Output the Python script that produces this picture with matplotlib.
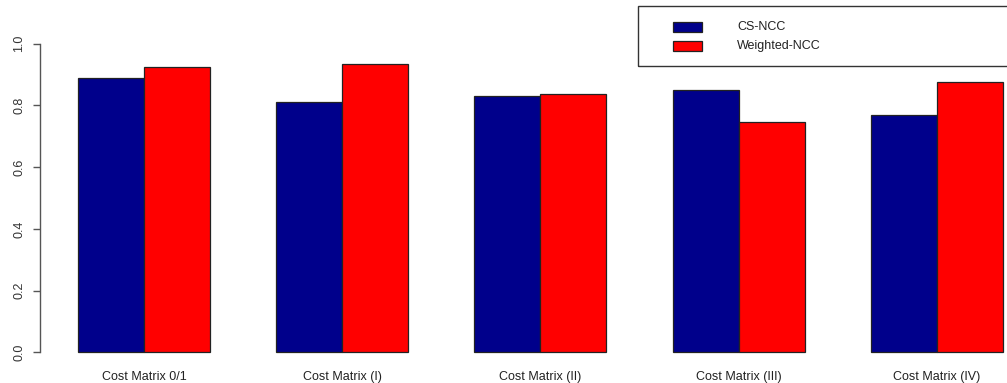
import numpy as np
import matplotlib
matplotlib.use("Agg")
import matplotlib.pyplot as plt
from matplotlib.patches import Rectangle

plt.rcParams['font.family'] = ['Liberation Sans', 'DejaVu Sans']

categories = ["Cost Matrix 0/1", "Cost Matrix (I)", "Cost Matrix (II)",
              "Cost Matrix (III)", "Cost Matrix (IV)"]
series_names = ["CS-NCC", "Weighted-NCC"]
cs_ncc = [0.888, 0.810, 0.831, 0.849, 0.768]
weighted_ncc = [0.923, 0.934, 0.838, 0.747, 0.875]
colors = ["#00008B", "#FF0000"]
yticks = [0.0, 0.2, 0.4, 0.6, 0.8, 1.0]

W, H = 1007, 383
fig = plt.figure(figsize=(W / 100, H / 100), dpi=100)

# R-style beside barplot: each group = 2 bars + 1 gap, bar width 1
unit = 66.08
x0_px = 77.8          # pixel of first bar's left edge
left_px, right_px = 40, 1040
u_left = 1 - (x0_px - left_px) / unit
u_right = 1 + (right_px - x0_px) / unit
ax = fig.add_axes([left_px / W, (H - 364.6) / H, (right_px - left_px) / W, (364.6 - 31.4) / H])
ax.set_xlim(u_left, u_right)
ax.set_ylim(-0.04, 1.04)

starts = 1 + 3 * np.arange(len(categories))
for i, (vals, col) in enumerate(zip([cs_ncc, weighted_ncc], colors)):
    ax.bar(starts + i, vals, width=1, align='edge', color=col,
           edgecolor="#222222", linewidth=0.9)

for s in ["top", "right", "bottom"]:
    ax.spines[s].set_visible(False)
ax.spines["left"].set_bounds(0, 1)
ax.spines["left"].set_color("#555555")
ax.spines["left"].set_linewidth(1.0)

ax.set_yticks(yticks)
ax.set_yticklabels([f"{t:.1f}" for t in yticks], rotation=90, va="center",
                   fontsize=9, color="#333333")
ax.tick_params(axis="y", length=5.2, width=1.0, color="#555555", pad=5.5)

ax.set_xticks(starts + 1)
ax.set_xticklabels(categories, fontsize=9, color="#222222")
ax.tick_params(axis="x", length=0, pad=4.5)

# legend box in the top right corner
def fx(px):
    return px / W

def fy(py):
    return (H - py) / H

fig.patches.append(Rectangle((fx(638.3), fy(65.7)), fx(1100 - 638.3), fy(6) - fy(65.7),
                             transform=fig.transFigure, fill=False,
                             edgecolor="#333333", linewidth=1.0))
for name, col, (top, bot) in zip(series_names, colors, [(21.7, 31.7), (40.7, 50.7)]):
    fig.patches.append(Rectangle((fx(673), fy(bot)), fx(701.7) - fx(673), fy(top) - fy(bot),
                                 transform=fig.transFigure, facecolor=col,
                                 edgecolor="#222222", linewidth=0.9))
    fig.text(fx(737.3), fy((top + bot) / 2), name, fontsize=9, color="#222222",
             ha="left", va="center")

fig.savefig("out.png", dpi=100)
